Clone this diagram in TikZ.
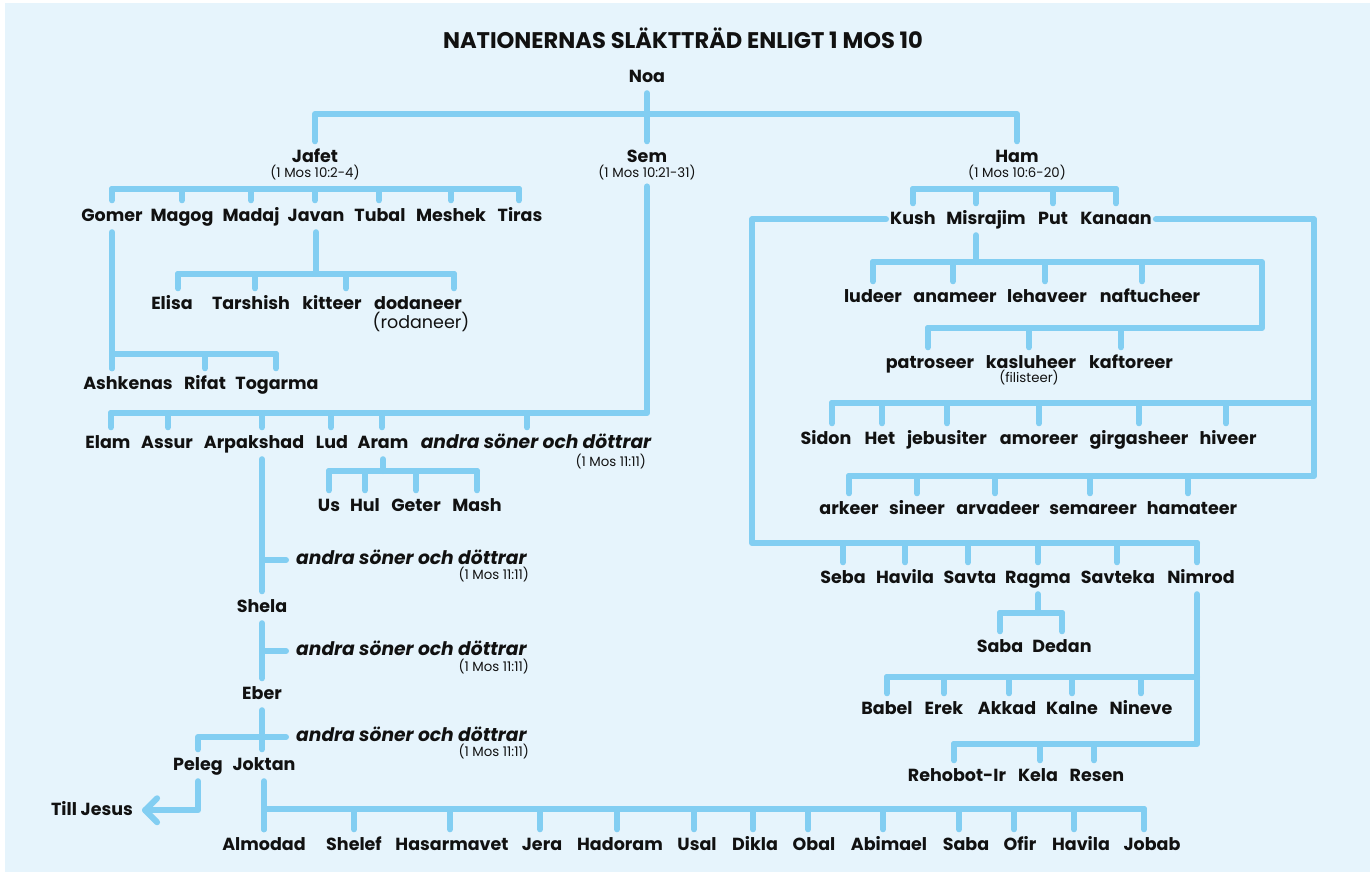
\documentclass[tikz,border=0pt]{standalone}
\usepackage{fontspec}
\setmainfont{Poppins}
\definecolor{bgblue}{HTML}{E6F4FC}
\definecolor{lineblue}{HTML}{82CEF2}
\definecolor{ink}{HTML}{111111}
\newcommand\nmfont{\fontsize{17.5}{20}\selectfont\bfseries}
\newcommand\nmrfont{\fontsize{17.5}{20}\selectfont}
\newcommand\rffont{\fontsize{13.3}{15}\selectfont}
\newcommand\itfont{\fontsize{18.7}{21}\selectfont\bfseries\itshape}
\newcommand\ttlfont{\fontsize{22.6}{26}\selectfont\bfseries}
\tikzset{
  nm/.style={font=\nmfont, text=ink, inner xsep=4pt, inner ysep=6pt, text height=15pt, text depth=4.5pt, anchor=base},
  nmr/.style={nm, font=\nmrfont},
  nmi/.style={nm, font=\itfont},
  rf/.style={font=\rffont, text=ink, inner xsep=2pt, inner ysep=6pt, text height=9pt, text depth=3pt, anchor=base},
  rfe/.style={rf, anchor=base east},
  andra/.style={font=\itfont, text=ink, inner xsep=10pt, inner ysep=0pt, text height=13pt, text depth=4pt, anchor=base west},
  ttl/.style={font=\ttlfont, text=ink, inner sep=0pt, anchor=base},
  ln/.style={line width=6pt, draw=lineblue, line cap=round, line join=round},
}
\newcommand\tk[3][0pt]{\path ([xshift=#1]#2.north) coordinate (#2T); \draw[ln] (#2T) -- (#2T |- #3);}
\begin{document}
\begin{tikzpicture}[x=1pt,y=-1pt]
\useasboundingbox (0,0) rectangle (1370,872);
\fill[white] (0,0) rectangle (1370,872);
\fill[bgblue] (5,3) rectangle (1370,872);

% bar levels and edges
\coordinate (noaBar) at (0,114);
\coordinate (jafetBar) at (0,189);
\coordinate (hamBar) at (0,189);
\coordinate (javanBar) at (0,274);
\coordinate (gomerBar) at (0,354);
\coordinate (semBar) at (0,413);
\coordinate (aramBar) at (0,471);
\coordinate (joktanBar) at (0,809);
\coordinate (kushBar) at (0,543);
\coordinate (kushEdge) at (752,0);
\coordinate (misBar) at (0,262);
\coordinate (misEdge) at (1262,0);
\coordinate (patBar) at (0,328);
\coordinate (kanEdge) at (1314,0);
\coordinate (sidonBar) at (0,403);
\coordinate (arkBar) at (0,476);
\coordinate (ragmaBar) at (0,613);
\coordinate (babelBar) at (0,677);
\coordinate (rehBar) at (0,744);

% title and top
\node[ttl] (title) at (683,49) {NATIONERNAS SLÄKTTRÄD ENLIGT 1 MOS 10};
\node[nm] (noa) at (647,82.5) {Noa};
\node[nm] (jafet) at (315,162.5) {Jafet};
\node[rf] (jafetref) at (315,177.2) {(1 Mos 10:2-4)};
\node[nm] (sem) at (647,162.5) {Sem};
\node[rf] (semref) at (647,177.2) {(1 Mos 10:21-31)};
\node[nm] (ham) at (1017,162.5) {Ham};
\node[rf] (hamref) at (1017,177.2) {(1 Mos 10:6-20)};

% Jafet
\node[nm] (gomer) at (112,221.5) {Gomer};
\node[nm] (magog) at (182,221.5) {Magog};
\node[nm] (madaj) at (251,221.5) {Madaj};
\node[nm] (javan) at (316,221.5) {Javan};
\node[nm] (tubal) at (380,221.5) {Tubal};
\node[nm] (meshek) at (451,221.5) {Meshek};
\node[nm] (tiras) at (520,221.5) {Tiras};
\node[nm] (elisa) at (172,309.5) {Elisa};
\node[nm] (tarshish) at (251,309.5) {Tarshish};
\node[nm] (kitteer) at (332,309.5) {kitteer};
\node[nm] (dodaneer) at (418,309.5) {dodaneer};
\node[nmr] (rodaneer) at (421,328.5) {(rodaneer)};
\node[nm] (ashkenas) at (128,389.5) {Ashkenas};
\node[nm] (rifat) at (205,389.5) {Rifat};
\node[nm] (togarma) at (277,389.5) {Togarma};

% Sem
\node[nm] (elam) at (108,448.5) {Elam};
\node[nm] (assur) at (167,448.5) {Assur};
\node[nm] (arpakshad) at (254,448.5) {Arpakshad};
\node[nm] (lud) at (332,448.5) {Lud};
\node[nm] (aram) at (383,448.5) {Aram};
\node[nmi] (andraSem) at (536,448.5) {andra söner och döttrar};
\node[rfe] (refSem) at (648,466.5) {(1 Mos 11:11)};
\node[nm] (us) at (329,511.5) {Us};
\node[nm] (hul) at (365,511.5) {Hul};
\node[nm] (geter) at (416,511.5) {Geter};
\node[nm] (mash) at (477,511.5) {Mash};
\node[andra] (andraA) at (286,564.5) {andra söner och döttrar};
\node[rfe] (refA) at (531,579.5) {(1 Mos 11:11)};
\node[nm] (shela) at (262,612.5) {Shela};
\node[andra] (andraB) at (286,655.5) {andra söner och döttrar};
\node[rfe] (refB) at (531,671.5) {(1 Mos 11:11)};
\node[nm] (eber) at (262,699.5) {Eber};
\node[andra] (andraC) at (286,741.5) {andra söner och döttrar};
\node[rfe] (refC) at (531,756.5) {(1 Mos 11:11)};
\node[nm] (peleg) at (198,770.5) {Peleg};
\node[nm] (joktan) at (264,770.5) {Joktan};
\node[nm] (till) at (92,815.5) {Till Jesus};
\node[nm] (almodad) at (264,850.5) {Almodad};
\node[nm] (shelef) at (354,850.5) {Shelef};
\node[nm] (hasarmavet) at (452,850.5) {Hasarmavet};
\node[nm] (jera) at (542,850.5) {Jera};
\node[nm] (hadoram) at (620,850.5) {Hadoram};
\node[nm] (usal) at (697,850.5) {Usal};
\node[nm] (dikla) at (755,850.5) {Dikla};
\node[nm] (obal) at (814,850.5) {Obal};
\node[nm] (abimael) at (889,850.5) {Abimael};
\node[nm] (saba2) at (966,850.5) {Saba};
\node[nm] (ofir) at (1020,850.5) {Ofir};
\node[nm] (havila2) at (1081,850.5) {Havila};
\node[nm] (jobab) at (1152,850.5) {Jobab};

% Ham
\node[nm] (kush) at (913,224.5) {Kush};
\node[nm] (misrajim) at (986,224.5) {Misrajim};
\node[nm] (put) at (1053,224.5) {Put};
\node[nm] (kanaan) at (1116,224.5) {Kanaan};
\node[nm] (ludeer) at (873,302.5) {ludeer};
\node[nm] (anameer) at (955,302.5) {anameer};
\node[nm] (lehaveer) at (1047,302.5) {lehaveer};
\node[nm] (naftucheer) at (1150,302.5) {naftucheer};
\node[nm] (patroseer) at (930,368.5) {patroseer};
\node[nm] (kasluheer) at (1031,368.5) {kasluheer};
\node[nm] (kaftoreer) at (1131,368.5) {kaftoreer};
\node[rf] (filisteer) at (1029,382.5) {(filisteer)};
\node[nm] (sidon) at (826,444.5) {Sidon};
\node[nm] (het) at (880,444.5) {Het};
\node[nm] (jebusiter) at (947,444.5) {jebusiter};
\node[nm] (amoreer) at (1039,444.5) {amoreer};
\node[nm] (girgasheer) at (1139,444.5) {girgasheer};
\node[nm] (hiveer) at (1228,444.5) {hiveer};
\node[nm] (arkeer) at (849,514.5) {arkeer};
\node[nm] (sineer) at (917,514.5) {sineer};
\node[nm] (arvadeer) at (998,514.5) {arvadeer};
\node[nm] (semareer) at (1093,514.5) {semareer};
\node[nm] (hamateer) at (1192,514.5) {hamateer};
\node[nm] (seba) at (843,583.5) {Seba};
\node[nm] (havila1) at (905,583.5) {Havila};
\node[nm] (savta) at (970,583.5) {Savta};
\node[nm] (ragma) at (1038,583.5) {Ragma};
\node[nm] (savteka) at (1118,583.5) {Savteka};
\node[nm] (nimrod) at (1201,583.5) {Nimrod};
\node[nm] (saba1) at (1000,652.5) {Saba};
\node[nm] (dedan) at (1062,652.5) {Dedan};
\node[nm] (babel) at (887,714.5) {Babel};
\node[nm] (erek) at (944,714.5) {Erek};
\node[nm] (akkad) at (1007,714.5) {Akkad};
\node[nm] (kalne) at (1072,714.5) {Kalne};
\node[nm] (nineve) at (1141,714.5) {Nineve};
\node[nm] (rehobot) at (957,781.5) {Rehobot-Ir};
\node[nm] (kela) at (1038,781.5) {Kela};
\node[nm] (resen) at (1097,781.5) {Resen};

% ---- connectors ----
% Noa
\draw[ln] (noa.south) -- (sem.north);
\draw[ln] (jafet.north) -- (jafet.north |- noaBar) -- (ham.north |- noaBar) -- (ham.north);

% Jafet children
\tk{gomer}{jafetBar} \tk{magog}{jafetBar} \tk{madaj}{jafetBar} \tk[-1pt]{javan}{jafetBar}
\tk[-1pt]{tubal}{jafetBar} \tk{meshek}{jafetBar} \tk[-1pt]{tiras}{jafetBar}
\draw[ln] (gomerT |- jafetBar) -- (tirasT |- jafetBar);
% Javan children
\draw[ln] (javan.south) -- (javan.south |- javanBar);
\tk[6pt]{elisa}{javanBar} \tk[4pt]{tarshish}{javanBar} \tk[14pt]{kitteer}{javanBar} \tk[36pt]{dodaneer}{javanBar}
\draw[ln] (elisaT |- javanBar) -- (dodaneerT |- javanBar);
% Gomer children
\tk[-16pt]{ashkenas}{gomerBar} \tk{rifat}{gomerBar} \tk[-1pt]{togarma}{gomerBar}
\draw[ln] (gomer.south) -- (ashkenasT);
\draw[ln] (ashkenasT |- gomerBar) -- (togarmaT |- gomerBar);

% Sem children
\tk[3pt]{elam}{semBar} \tk[1pt]{assur}{semBar} \tk[8pt]{arpakshad}{semBar} \tk[-1pt]{lud}{semBar}
\tk[-1pt]{aram}{semBar} \tk[-9pt]{andraSem}{semBar}
\draw[ln] (semref.south) -- (semref.south |- semBar) -- (elamT |- semBar);
% Aram children
\draw[ln] (aram.south) -- (aram.south |- aramBar);
\tk{us}{aramBar} \tk{hul}{aramBar} \tk{geter}{aramBar} \tk{mash}{aramBar}
\draw[ln] (usT |- aramBar) -- (mashT |- aramBar);
% Arpakshad line
\path ([xshift=8pt]arpakshad.south) coordinate (arpB);
\draw[ln] (arpB) -- (shela.north);
\draw[ln] (shela.north |- andraA.west) -- (andraA.west);
\draw[ln] (shela.south) -- (eber.north);
\draw[ln] (eber.north |- andraB.west) -- (andraB.west);
\draw[ln] (eber.south) -- (joktan.north -| eber.south);
\draw[ln] (peleg.north) -- (peleg.north |- andraC.west) -- (andraC.west);
% Peleg to Jesus
\path ([xshift=8pt]till.east) coordinate (tip);
\draw[ln] (peleg.south) |- (tip);
\draw[ln] ([shift={(12,-12)}]tip) -- (tip) -- ([shift={(12,12)}]tip);
% Joktan children
\draw[ln] (joktan.south) -- (almodad.north);
\tk{almodad}{joktanBar} \tk{shelef}{joktanBar} \tk[-2pt]{hasarmavet}{joktanBar} \tk[-2pt]{jera}{joktanBar}
\tk[-3pt]{hadoram}{joktanBar} \tk[-3pt]{usal}{joktanBar} \tk[-2pt]{dikla}{joktanBar} \tk[-6pt]{obal}{joktanBar}
\tk[-6pt]{abimael}{joktanBar} \tk[-7pt]{saba2}{joktanBar} \tk[-6pt]{ofir}{joktanBar} \tk[-7pt]{havila2}{joktanBar}
\tk[-8pt]{jobab}{joktanBar}
\draw[ln] (almodadT |- joktanBar) -- (jobabT |- joktanBar);

% Ham children
\tk{kush}{hamBar} \tk[-10pt]{misrajim}{hamBar} \tk{put}{hamBar} \tk{kanaan}{hamBar}
\draw[ln] (kushT |- hamBar) -- (kanaanT |- hamBar);
% Misrajim
\path ([xshift=-10pt]misrajim.south) coordinate (misB);
\draw[ln] (misB) -- (misB |- misBar);
\tk{ludeer}{misBar} \tk[-2pt]{anameer}{misBar} \tk[-2pt]{lehaveer}{misBar} \tk[-8pt]{naftucheer}{misBar}
\tk[-2pt]{patroseer}{patBar} \tk[-2pt]{kasluheer}{patBar} \tk[-10pt]{kaftoreer}{patBar}
\draw[ln] (ludeerT |- misBar) -- (misEdge |- misBar) -- (misEdge |- patBar) -- (patroseerT |- patBar);
% Kanaan
\tk[6pt]{sidon}{sidonBar} \tk[2pt]{het}{sidonBar} \tk{jebusiter}{sidonBar} \tk{amoreer}{sidonBar}
\tk{girgasheer}{sidonBar} \tk[-2pt]{hiveer}{sidonBar}
\tk{arkeer}{arkBar} \tk{sineer}{arkBar} \tk[-3pt]{arvadeer}{arkBar} \tk[-3pt]{semareer}{arkBar} \tk[-4pt]{hamateer}{arkBar}
\draw[ln] (kanaan.east) -- (kanaan.east -| kanEdge) -- (kanEdge |- arkBar) -- (arkeerT |- arkBar);
\draw[ln] (sidonT |- sidonBar) -- (kanEdge |- sidonBar);
% Kush
\tk{seba}{kushBar} \tk{havila1}{kushBar} \tk[-2pt]{savta}{kushBar} \tk{ragma}{kushBar}
\tk[-1pt]{savteka}{kushBar} \tk[-4pt]{nimrod}{kushBar}
\draw[ln] (kush.west) -- (kush.west -| kushEdge) -- (kushEdge |- kushBar) -- (nimrodT |- kushBar);
% Ragma
\draw[ln] (ragma.south) -- (ragma.south |- ragmaBar);
\tk{saba1}{ragmaBar} \tk{dedan}{ragmaBar}
\draw[ln] (saba1T |- ragmaBar) -- (dedanT |- ragmaBar);
% Nimrod
\path ([xshift=-4pt]nimrod.south) coordinate (nimB);
\tk{babel}{babelBar} \tk{erek}{babelBar} \tk[2pt]{akkad}{babelBar} \tk{kalne}{babelBar} \tk{nineve}{babelBar}
\tk[-3pt]{rehobot}{rehBar} \tk[2pt]{kela}{rehBar} \tk[-3pt]{resen}{rehBar}
\draw[ln] (nimB) -- (nimB |- rehBar) -- (rehobotT |- rehBar);
\draw[ln] (babelT |- babelBar) -- (nimB |- babelBar);
\end{tikzpicture}
\end{document}
